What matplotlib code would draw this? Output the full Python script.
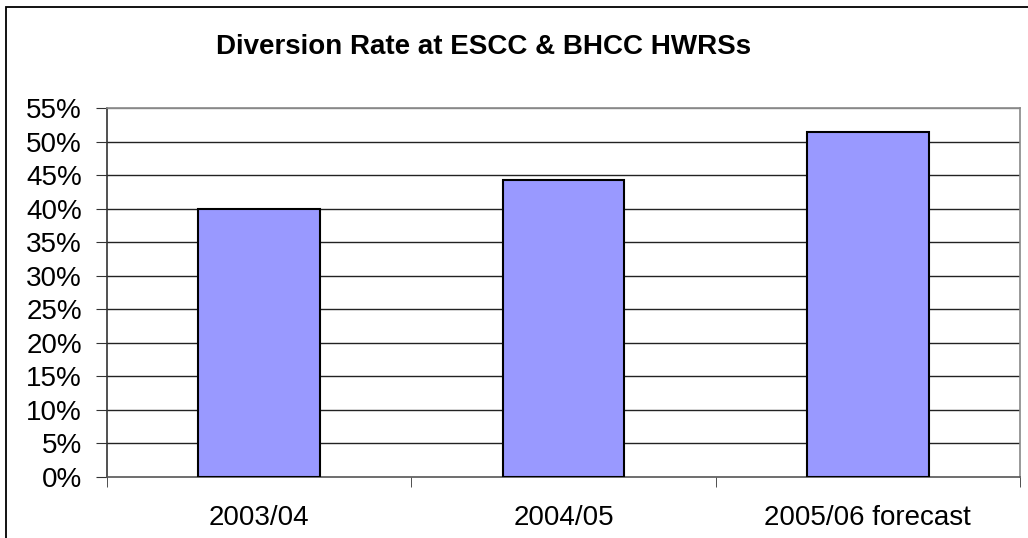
import matplotlib
matplotlib.use('Agg')
import matplotlib.pyplot as plt
from matplotlib.patches import Rectangle
from matplotlib.ticker import FuncFormatter

categories = ['2003/04', '2004/05', '2005/06 forecast']
rates = [40.0, 44.2, 51.4]
y_ticks = list(range(0, 56, 5))

plt.rcParams['font.family'] = ['Liberation Sans', 'DejaVu Sans']

fig = plt.figure(figsize=(10.28, 5.38), dpi=100)
ax = fig.add_axes([107 / 1028, 1 - 477 / 538, (1020 - 107) / 1028, (477 - 108) / 538])

# outer chart border (right/bottom edges fall off the image)
fig.patches.append(Rectangle((6 / 1028, -0.1), 1.2, (538 - 7) / 538 + 0.1,
                             transform=fig.transFigure, fill=False,
                             edgecolor='black', linewidth=1.3))

x = range(len(categories))
ax.bar(x, rates, width=0.4, color='#9999FF', edgecolor='black', linewidth=1.5, zorder=3)

ax.set_xlim(-0.5, len(categories) - 0.5)
ax.set_ylim(0, 55)
ax.set_yticks(y_ticks)
ax.yaxis.set_major_formatter(FuncFormatter(lambda v, p: f'{v:.0f}%'))
for t in y_ticks[1:]:
    ax.axhline(t, color='#222222' if t < 55 else '#888888', linewidth=1.0, zorder=1)

ax.set_xticks(list(x))
ax.set_xticklabels(categories)
ax.set_xticks([i - 0.5 for i in range(len(categories) + 1)], minor=True)
ax.tick_params(axis='x', which='major', length=0, pad=20, labelsize=20)
ax.tick_params(axis='x', which='minor', length=7, direction='out', color='#333333')
ax.tick_params(axis='y', length=8, direction='out', pad=10, labelsize=20, color='#333333')

ax.spines['left'].set_color('#333333')
ax.spines['bottom'].set_color('#555555')
ax.spines['top'].set_color('#888888')
ax.spines['right'].set_color('#888888')
for s in ax.spines.values():
    s.set_linewidth(1.2)

fig.text(484 / 1028, 1 - 47 / 538, 'Diversion Rate at ESCC & BHCC HWRSs',
         ha='center', va='center', fontsize=20, fontweight='bold')

fig.savefig('out.png', dpi=100)
